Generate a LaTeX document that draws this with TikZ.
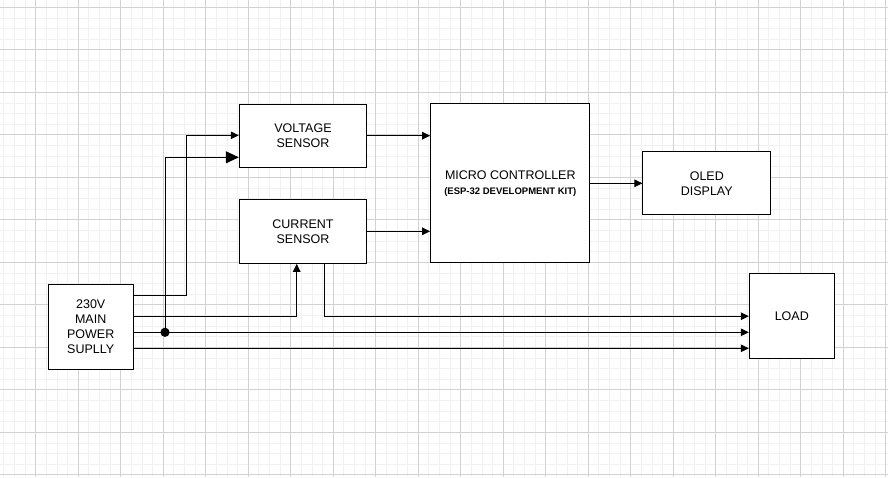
\documentclass[tikz,border=0pt]{standalone}
\usepackage{fontspec}
\setmainfont{Liberation Sans}
\usetikzlibrary{arrows.meta}
\definecolor{gridmin}{HTML}{F1F1F1}
\definecolor{gridmaj}{HTML}{D2D2D2}
\tikzset{
  blk/.style={draw,line width=1pt,fill=white,inner sep=0pt,align=center,
    font=\fontsize{12.5}{15}\selectfont},
  wire/.style={line width=1pt,-{Triangle[length=8pt,width=7.5pt]}},
  bigtip/.style={-{Triangle[length=13pt,width=12pt]}}
}
\begin{document}
\begin{tikzpicture}[x=1pt,y=-1pt]
    \useasboundingbox (0,0) rectangle (888,477);
    \fill[white] (0,0) rectangle (888,477);
    % grid
    \foreach \i in {0,...,83} \draw[gridmin,line width=0.8pt] (3.825+\i*10.625,0) -- ++(0,477);
    \foreach \i in {0,...,44} \draw[gridmin,line width=0.8pt] (0,7.3+\i*10.625) -- ++(888,0);
    \foreach \i in {0,...,20} \draw[gridmaj,line width=0.8pt] (35.7+\i*42.5,0) -- ++(0,477);
    \foreach \i in {0,...,11} \draw[gridmaj,line width=0.8pt] (0,7.3+\i*42.5) -- ++(888,0);
    % blocks
    \node[blk,minimum width=85.3pt,minimum height=85pt] (psu) at (90.7,326.8) {230V\\MAIN\\POWER\\SUPLLY};
    \node[blk,minimum width=127.4pt,minimum height=63.3pt] (vs) at (303,135.7) {VOLTAGE\\SENSOR};
    \node[blk,minimum width=127.4pt,minimum height=64pt] (cs) at (303,231.3) {CURRENT\\SENSOR};
    \node[blk,minimum width=159.3pt,minimum height=159.3pt] (mc) at (510.3,183.3)
      {MICRO CONTROLLER\\{\fontsize{9.5}{15}\selectfont\bfseries (ESP-32 DEVELOPMENT KIT)}};
    \node[blk,minimum width=127.7pt,minimum height=63.3pt] (oled) at (706.8,183.3) {OLED\\DISPLAY};
    \node[blk,minimum width=85pt,minimum height=85pt] (load) at (791.8,316.2) {LOAD};
    % supply lines
    \coordinate (p1) at (psu.east |- 0,295);
    \coordinate (p2) at (psu.east |- 0,316);
    \coordinate (p3) at (psu.east |- 0,332.3);
    \coordinate (p4) at (psu.east |- 0,348.3);
    \coordinate (j) at (165,332.3);
    \draw[wire] (p1) -| (186.7,135.3) -- (vs.west |- 0,135.3);
    \draw[wire] (p2) -| (cs.south -| 296.7,0);
    \draw[wire] (p3) -- (load.west |- p3);
    \draw[wire] (p4) -- (load.west |- p4);
    \draw[wire,bigtip] (j) |- (vs.west |- 0,157.3);
    \fill (j) circle (4.6pt);
    \draw[wire] (cs.south -| 324.3,0) |- (load.west);
    % signals
    \draw[wire] (vs.east) -- (mc.west |- vs.east);
    \draw[wire] (cs.east) -- (mc.west |- cs.east);
    \draw[wire] (mc.east) -- (oled.west);
\end{tikzpicture}
\end{document}
